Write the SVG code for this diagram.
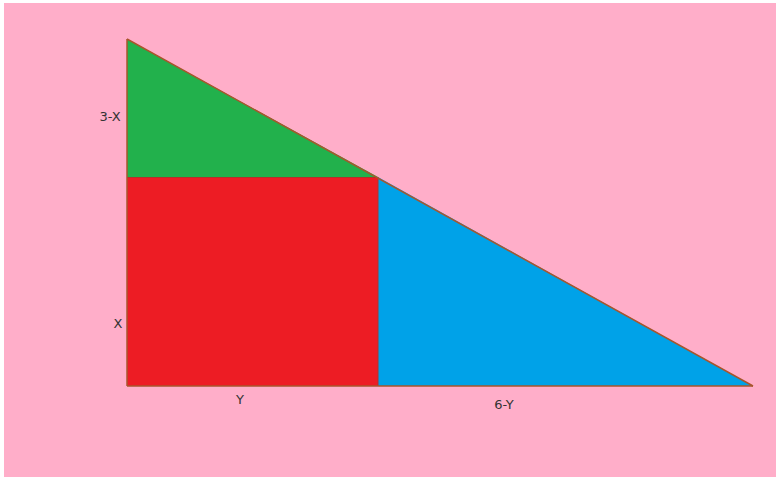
<svg xmlns="http://www.w3.org/2000/svg" width="776" height="477" viewBox="0 0 776 477">
<style>
.lbl{font-family:"DejaVu Sans",sans-serif;font-size:13px;fill:#333333}
.edge{stroke:#A9552B;stroke-width:1.5;fill:none}
.inner{stroke:#B5302A;stroke-width:1;fill:none}
</style>
<rect x="0" y="0" width="776" height="477" fill="#ffffff"/>
<rect x="4" y="3" width="772" height="474" fill="#FFAEC9"/>
<g id="green-triangle"><polygon points="127,39 127,177 378,177" fill="#22B14C"/></g>
<g id="red-square"><rect x="127" y="177" width="251" height="209" fill="#ED1C24"/></g>
<g id="blue-triangle"><polygon points="378,177 378,386 753,386" fill="#00A2E8"/></g>
<g id="edges">
<line class="inner" x1="127" y1="177.5" x2="378" y2="177.5"/>
<line class="inner" x1="378" y1="177" x2="378" y2="386"/>
<line class="edge" x1="127" y1="39" x2="127" y2="386"/>
<line class="edge" x1="127" y1="386" x2="753" y2="386"/>
<line class="edge" x1="127" y1="39" x2="753" y2="386" stroke="#C8743E"/>
</g>
<text class="lbl" x="110" y="121" text-anchor="middle">3-X</text>
<text class="lbl" x="118" y="328" text-anchor="middle">X</text>
<text class="lbl" x="240" y="404" text-anchor="middle">Y</text>
<text class="lbl" x="504" y="409" text-anchor="middle">6-Y</text>
</svg>
